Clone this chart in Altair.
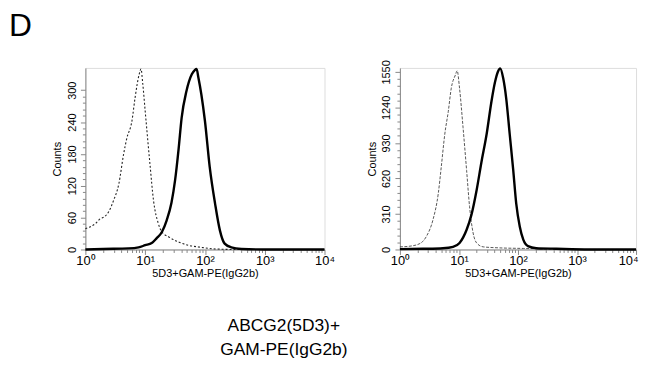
import math
import altair as alt
import pandas as pd

# ---- data (x = log10 fluorescence, y = counts) ----
left_iso_x = [0, 0.17, 0.25, 0.31, 0.39, 0.47, 0.56, 0.64, 0.69, 0.78, 0.83, 0.90, 0.93, 0.96, 1.0, 1.08, 1.14, 1.22, 1.28, 1.39, 1.56, 1.72, 1.94, 2.17, 2.5, 3.0, 4.0]
left_iso_y = [39, 49, 58, 61, 71, 92, 124, 180, 208, 243, 285, 330, 340, 312, 261, 161, 92, 49, 33, 24, 14, 8, 4, 1, 0, 0, 0]
left_pos_x = [0, 0.3, 0.72, 0.89, 1.0, 1.11, 1.19, 1.28, 1.36, 1.44, 1.5, 1.56, 1.61, 1.69, 1.78, 1.83, 1.86, 1.89, 1.94, 2.0, 2.08, 2.17, 2.25, 2.33, 2.44, 2.61, 3.0, 4.0]
left_pos_y = [0, 1, 2, 4, 8, 12, 21, 33, 55, 88, 130, 190, 248, 298, 330, 338, 340, 324, 292, 242, 155, 86, 36, 11, 4, 1, 0, 0]

right_iso_x = [0, 0.17, 0.34, 0.45, 0.56, 0.65, 0.70, 0.76, 0.82, 0.87, 0.94, 0.97, 1.01, 1.07, 1.13, 1.18, 1.24, 1.30, 1.41, 1.69, 2.09, 2.42, 2.7, 4.0]
right_iso_y = [23, 29, 52, 115, 259, 489, 718, 1006, 1207, 1408, 1523, 1560, 1408, 1063, 690, 374, 144, 57, 23, 14, 9, 5, 0, 0]
right_pos_x = [0, 0.39, 0.73, 0.90, 1.01, 1.13, 1.21, 1.30, 1.38, 1.47, 1.55, 1.61, 1.66, 1.70, 1.75, 1.80, 1.86, 1.92, 1.97, 2.03, 2.09, 2.17, 2.31, 2.65, 3.21, 4.0]
right_pos_y = [3, 6, 11, 23, 57, 172, 300, 520, 760, 1010, 1290, 1460, 1552, 1580, 1494, 1322, 1006, 690, 402, 201, 86, 29, 11, 6, 0, 0]

x_title = "5D3+GAM-PE(IgG2b)"
y_title = "Counts"
panel_letter = "D"
caption = "ABCG2(5D3)+\nGAM-PE(IgG2b)"

FONT = "Liberation Sans"

# log-axis tick positions (decades + minor 2..9)
x_ticks = []
for d in range(4):
    for k in range(1, 10):
        x_ticks.append(d + math.log10(k) if k > 1 else float(d))
x_ticks.append(4.0)

ymax_dom = {1550: 1585, 300: 342}


def panel(iso_x, iso_y, pos_x, pos_y, ymax, major, minor, iso_dash, iso_width, iso_color, flush_last):
    iso = pd.DataFrame({"x": iso_x, "y": iso_y})
    pos = pd.DataFrame({"x": pos_x, "y": pos_y})
    y_ticks = list(range(0, ymax + 1, minor))
    extra = {}
    if flush_last:
        extra["labelAlign"] = {"condition": {"test": "datum.value == 4", "value": "right"}, "value": "center"}
        extra["labelOffset"] = {"condition": {"test": "datum.value == 4", "value": 2}, "value": 0}
    xenc = alt.X(
        "x:Q",
        scale=alt.Scale(domain=[0, 4], nice=False, zero=False),
        axis=alt.Axis(
            values=x_ticks,
            title=x_title,
            labelExpr="datum.value % 1 == 0 ? '10' + ['⁰','¹','²','³','⁴'][datum.value] : ''",
            tickSize={"condition": {"test": "datum.value % 1 == 0", "value": 5}, "value": 3},
            labelFontSize=13,
            labelPadding=0,
            labelFlush=False,
            labelOverlap=False,
            titleFontSize=11,
            titleFontWeight="normal",
            titlePadding=0,
            grid=False,
            **extra,
        ),
    )
    yenc = alt.Y(
        "y:Q",
        scale=alt.Scale(domain=[0, ymax_dom[ymax]], nice=False),
        axis=alt.Axis(
            values=y_ticks,
            format="d",
            title=y_title,
            labelExpr=f"datum.value % {major} == 0 ? datum.label : ''",
            tickSize={"condition": {"test": f"datum.value % {major} == 0", "value": 5}, "value": 3},
            labelAngle=270,
            labelAlign="center",
            labelBaseline="bottom",
            labelFontSize=11,
            labelPadding=3,
            labelOverlap=False,
            titleFontSize=11,
            titleFontWeight="normal",
            titlePadding=4,
            grid=False,
        ),
    )
    iso_line = alt.Chart(iso).mark_line(
        color=iso_color, strokeWidth=iso_width, strokeDash=iso_dash, interpolate="monotone"
    ).encode(x=xenc, y=yenc)
    pos_line = alt.Chart(pos).mark_line(
        color="black", strokeWidth=2.4, interpolate="monotone"
    ).encode(x=xenc, y=yenc)
    return iso_line, pos_line


l_iso, l_pos = panel(left_iso_x, left_iso_y, left_pos_x, left_pos_y, 300, 60, 12, [2, 2], 1.1, "#222", False)
r_iso, r_pos = panel(right_iso_x, right_iso_y, right_pos_x, right_pos_y, 1550, 310, 62, [3, 1.5], 0.9, "#444", True)

letter = alt.Chart(pd.DataFrame({"t": [panel_letter]})).mark_text(
    font=FONT, fontSize=32, align="left", baseline="top", color="black"
).encode(text="t:N", x=alt.value(-77), y=alt.value(-57))

cap = alt.Chart(pd.DataFrame({"t": [caption]})).mark_text(
    font=FONT, fontSize=17.5, align="center", baseline="alphabetic", color="black",
    lineBreak="\n", lineHeight=24
).encode(text="t:N", x=alt.value(200), y=alt.value(265))

left = alt.layer(l_iso, l_pos, letter, cap).properties(width=241, height=183)
right = alt.layer(r_iso, r_pos).properties(width=238, height=183)

chart = (
    alt.hconcat(left, right, spacing=76, bounds="flush")
    .properties(padding=0)
    .configure_view(stroke="black", strokeWidth=1)
    .configure_axis(
        domainColor="black", tickColor="black", labelColor="black", titleColor="black",
        labelFont=FONT, titleFont=FONT, domainWidth=1, tickWidth=1
    )
    .configure(background="white")
)

chart.save("out.html", embed_options={"renderer": "svg", "actions": False})
